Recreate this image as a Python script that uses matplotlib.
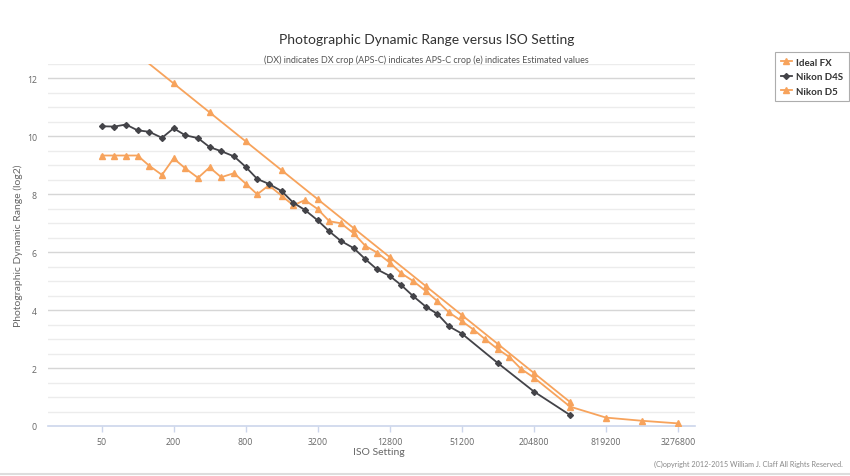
import matplotlib
matplotlib.use('Agg')
import matplotlib.pyplot as plt
from matplotlib.lines import Line2D

# ISO steps (1/3 stop) and values
iso_thirds = [50, 64, 80, 100, 125, 160, 200, 250, 320, 400, 500, 640, 800,
              1000, 1250, 1600, 2000, 2500, 3200, 4000, 5000, 6400, 8000,
              10000, 12800, 16000, 20000, 25600, 32000, 40000, 51200, 64000,
              80000, 102400, 128000, 160000, 204800]

ideal_iso = [50, 100, 200, 400, 800, 1600, 3200, 6400, 12800, 25600, 51200,
             102400, 204800, 409600]
ideal_dr = [13.83, 12.83, 11.83, 10.83, 9.83, 8.83, 7.83, 6.83, 5.83, 4.83,
            3.83, 2.83, 1.83, 0.83]

d4s_iso = iso_thirds[:31] + [102400, 204800, 409600]
d4s_dr = [10.35, 10.34, 10.41, 10.21, 10.16, 9.95, 10.28, 10.04, 9.94, 9.63,
          9.49, 9.31, 8.95, 8.53, 8.36, 8.11, 7.71, 7.46, 7.10, 6.72, 6.39,
          6.14, 5.76, 5.41, 5.18, 4.86, 4.49, 4.12, 3.87, 3.44, 3.19,
          2.17, 1.19, 0.38]

d5_iso = iso_thirds + [409600, 819200, 1638400, 3276800]
d5_dr = [9.34, 9.34, 9.34, 9.34, 8.99, 8.67, 9.24, 8.90, 8.57, 8.93, 8.59,
         8.73, 8.37, 8.00, 8.31, 7.95, 7.62, 7.80, 7.49, 7.07, 7.00, 6.65,
         6.22, 5.99, 5.64, 5.27, 5.01, 4.66, 4.31, 3.92, 3.62, 3.33, 3.00,
         2.65, 2.38, 1.97, 1.67, 0.67, 0.29, 0.18, 0.09]

x_ticks = [50, 200, 800, 3200, 12800, 51200, 204800, 819200, 3276800]
x_labels = [str(v) for v in x_ticks]

orange = '#f7a35c'
dark = '#434348'
narrow = ['Lato', 'DejaVu Sans']

W, H = 850, 477
fig = plt.figure(figsize=(W / 100, H / 100), dpi=100)
ax = fig.add_axes([48 / W, 1 - 427 / H, (695 - 48) / W, (427 - 65) / H])

ax.plot(ideal_iso, ideal_dr, color=orange, lw=1.3, marker='^', ms=4.2,
        label='Ideal FX', zorder=3)
ax.plot(d4s_iso, d4s_dr, color=dark, lw=1.3, marker='D', ms=3,
        label='Nikon D4S', zorder=4)
ax.plot(d5_iso, d5_dr, color=orange, lw=1.3, marker='^', ms=4.2,
        label='Nikon D5', zorder=3)

ax.set_xscale('log', base=2)
ax.set_xlim(50 * 2 ** -1.485, 3276800 * 2 ** 0.47)
ax.set_ylim(0, 12.5)
ax.set_xticks(x_ticks)
ax.set_xticklabels(x_labels)
ax.minorticks_off()
ax.set_yticks(range(0, 13, 2))

# gridlines: darker every 2, lighter every 0.5
for k in range(1, 26):
    y = k * 0.5
    c = '#d6d6d6' if y % 2 == 0 else '#ececec'
    ax.axhline(y, color=c, lw=1, zorder=1)

for s in ['top', 'right', 'left']:
    ax.spines[s].set_visible(False)
ax.spines['bottom'].set_color('#ccd6eb')
ax.spines['bottom'].set_linewidth(1.2)
ax.tick_params(axis='x', colors='#ccd6eb', length=4, width=1, labelcolor='#666666',
               labelsize=6.3, pad=4)
ax.tick_params(axis='y', length=0, labelcolor='#666666', labelsize=6.3, pad=8)
for lab in ax.get_xticklabels() + ax.get_yticklabels():
    lab.set_family(['Open Sans', 'DejaVu Sans'])

fig.text(0.502, 1 - 40 / H, 'Photographic Dynamic Range versus ISO Setting',
         ha='center', va='center', fontsize=10, color='#333333', family=narrow)
fig.text(0.502, 1 - 60 / H,
         '(DX) indicates DX crop (APS-C) indicates APS-C crop (e) indicates Estimated values',
         ha='center', va='center', fontsize=6.5, color='#555555', family=narrow)
fig.text(18 / W, 1 - 246 / H, 'Photographic Dynamic Range (log2)', rotation=90,
         ha='center', va='center', fontsize=7.5, color='#666666', family=narrow)
fig.text(379 / W, 1 - 453 / H, 'ISO Setting', ha='center', va='center',
         fontsize=7.5, color='#666666', family=narrow)
fig.text(843 / W, 1 - 464 / H,
         '(C)opyright 2012-2015 William J. Claff All Rights Reserved.',
         ha='right', va='center', fontsize=5.2, color='#888888', family=narrow)

fig.add_artist(Line2D([0, 1], [1 - 475 / H] * 2, color='#dddddd', lw=1.5))

leg = fig.legend(loc='upper left', bbox_to_anchor=(775 / W, 1 - 53 / H),
                 borderaxespad=0, frameon=True, fancybox=False, edgecolor='#999999',
                 handlelength=1.1, handletextpad=0.45, labelspacing=0.55,
                 borderpad=0.6, prop={'family': narrow, 'size': 7, 'weight': 'bold'})
leg.get_frame().set_linewidth(0.8)
for t in leg.get_texts():
    t.set_color('#333333')

fig.savefig('out.png', dpi=100)
